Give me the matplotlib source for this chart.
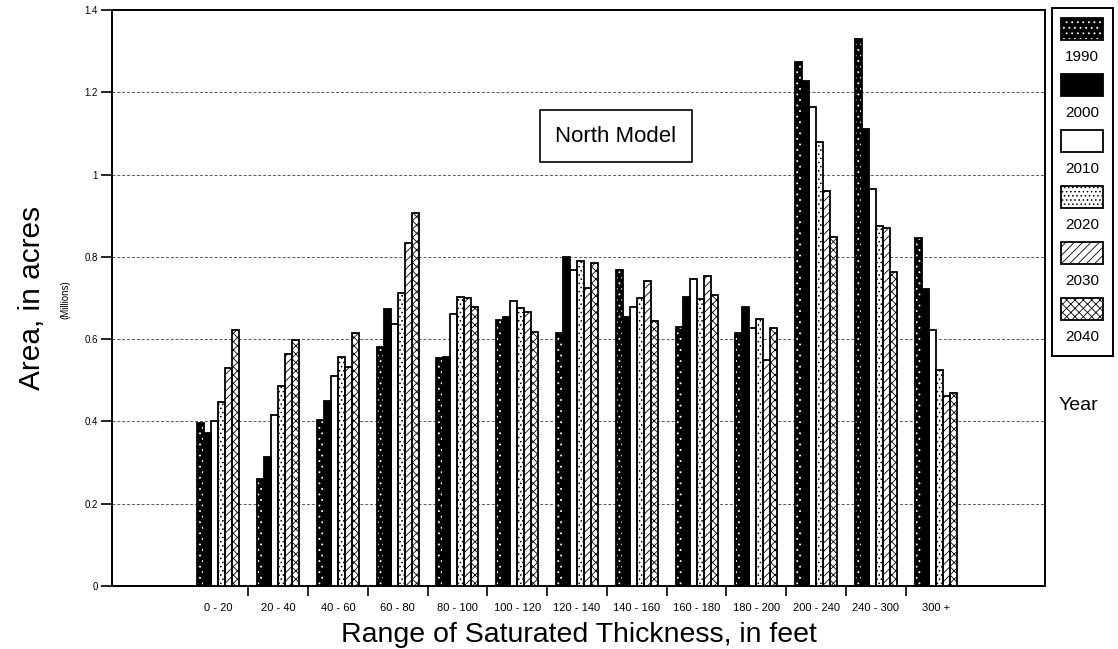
import numpy as np
import matplotlib
matplotlib.use("Agg")
import matplotlib.pyplot as plt
from matplotlib.patches import Rectangle

plt.rcParams['font.family'] = ['Liberation Sans', 'DejaVu Sans']
plt.rcParams['hatch.linewidth'] = 0.6

categories = ["0 - 20", "20 - 40", "40 - 60", "60 - 80", "80 - 100", "100 - 120",
              "120 - 140", "140 - 160", "160 - 180", "180 - 200", "200 - 240",
              "240 - 300", "300 +"]
years = ["1990", "2000", "2010", "2020", "2030", "2040"]

# area in millions of acres, one list per year
area_1990 = [0.395, 0.259, 0.403, 0.580, 0.553, 0.646, 0.614, 0.768, 0.630, 0.614, 1.273, 1.329, 0.847]
area_2000 = [0.371, 0.314, 0.450, 0.673, 0.557, 0.654, 0.800, 0.653, 0.703, 0.679, 1.228, 1.110, 0.723]
area_2010 = [0.402, 0.416, 0.510, 0.638, 0.660, 0.693, 0.768, 0.679, 0.746, 0.626, 1.164, 0.965, 0.623]
area_2020 = [0.448, 0.486, 0.557, 0.713, 0.703, 0.675, 0.790, 0.701, 0.697, 0.650, 1.079, 0.876, 0.524]
area_2030 = [0.531, 0.564, 0.533, 0.834, 0.701, 0.667, 0.725, 0.741, 0.753, 0.549, 0.959, 0.869, 0.462]
area_2040 = [0.622, 0.599, 0.616, 0.906, 0.679, 0.618, 0.784, 0.645, 0.707, 0.628, 0.849, 0.763, 0.468]
series = [area_1990, area_2000, area_2010, area_2020, area_2030, area_2040]

yticks = [0, 0.2, 0.4, 0.6, 0.8, 1.0, 1.2, 1.4]
ytick_labels = ["0", "0.2", "0.4", "0.6", "0.8", "1", "1.2", "1.4"]

# (facecolor, hatch colour, hatch)
styles = [("black", "white", "..."),
          ("black", "black", ""),
          ("white", "black", ""),
          ("white", "black", "...."),
          ("white", "black", "////"),
          ("white", "black", "xxxx")]

fig = plt.figure(figsize=(11.18, 6.49), dpi=100)
ax = fig.add_axes([112 / 1118, 1 - 586 / 649, 933 / 1118, 576 / 649])

x = np.arange(len(categories))
width = 0.117
for i, vals in enumerate(series):
    face, hcol, hatch = styles[i]
    pos = x + (i - 2.5) * width
    ax.bar(pos, vals, width, color=face, edgecolor=hcol, hatch=hatch,
           linewidth=0, zorder=3)
    ax.bar(pos, vals, width, fill=False, edgecolor="black", linewidth=1.3, zorder=4)

ax.set_xlim(-1.78, 13.83)
ax.set_ylim(0, 1.4)
ax.set_yticks(yticks)
ax.set_yticklabels(ytick_labels, fontsize=7)
ax.set_xticks(x)
ax.set_xticklabels(categories, fontsize=8)
ax.tick_params(axis="x", length=0, pad=12)
ax.set_xticks(x[:-1] + 0.5, minor=True)
ax.tick_params(axis="x", which="minor", length=7, width=1.2, direction="out")
ax.tick_params(axis="y", length=8, width=1.2, direction="out", pad=2)
ax.grid(axis="y", linestyle=(0, (3, 2)), color="0.35", linewidth=0.7, zorder=0)
for sp in ax.spines.values():
    sp.set_linewidth(1.4)

ax.set_xlabel("Range of Saturated Thickness, in feet", fontsize=20.5, labelpad=7)
ax.set_ylabel("Area, in acres", fontsize=21.5, labelpad=28)
fig.text(65 / 1118, 1 - 300 / 649, "(Millions)", rotation=90, fontsize=7,
         ha="center", va="center")

ax.text(0.54, 0.781, "North Model", transform=ax.transAxes, fontsize=16,
        ha="center", va="center",
        bbox=dict(boxstyle="square,pad=0.7", facecolor="white", edgecolor="black", linewidth=1.2),
        zorder=6)

# legend column on the right
lax = fig.add_axes([1052 / 1118, 1 - 356 / 649, 61 / 1118, 348 / 649])
lax.set_xlim(0, 61)
lax.set_ylim(348, 0)
lax.set_xticks([])
lax.set_yticks([])
for sp in lax.spines.values():
    sp.set_linewidth(1.4)
for i, yr in enumerate(years):
    face, hcol, hatch = styles[i]
    top = 10 + 56 * i
    lax.add_patch(Rectangle((9, top), 42, 22, facecolor=face, edgecolor=hcol,
                            hatch=hatch, linewidth=0))
    lax.add_patch(Rectangle((9, top), 42, 22, fill=False, edgecolor="black", linewidth=1.3))
    lax.text(30, top + 39, yr, fontsize=11, ha="center", va="center")

fig.text(1078 / 1118, 1 - 405 / 649, "Year", fontsize=14, ha="center", va="center")

fig.savefig("out.png", dpi=100)
